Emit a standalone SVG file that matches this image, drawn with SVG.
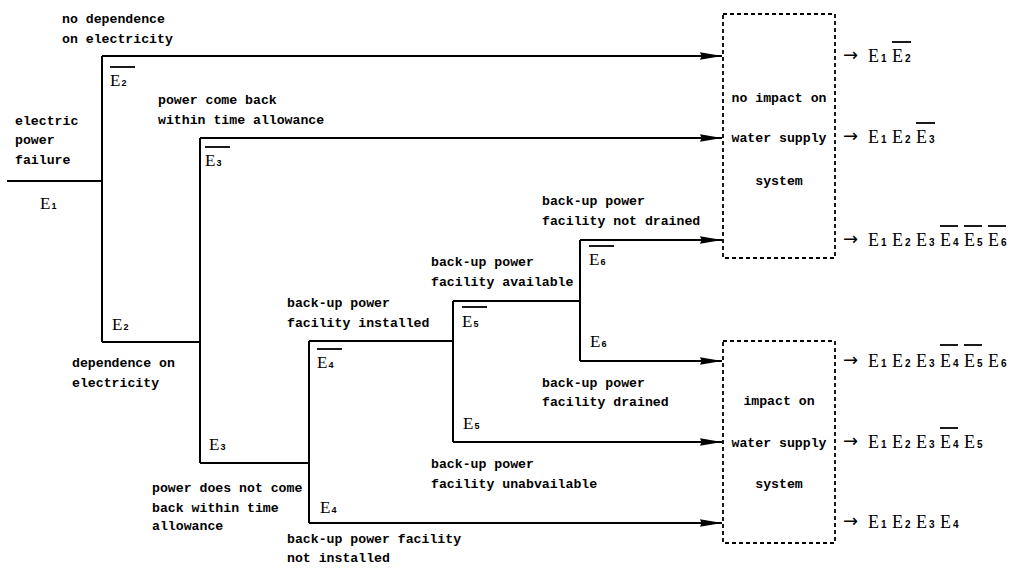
<svg xmlns="http://www.w3.org/2000/svg" width="1012" height="575" viewBox="0 0 1012 575">
<style>
.lbl{font-family:"Liberation Mono","DejaVu Sans Mono",monospace;font-size:13.2px;font-weight:bold;fill:#000}
.ev{font-family:"Liberation Serif","Times New Roman",serif;font-size:17px;fill:#000}
.ev .s{font-family:"Liberation Sans",Arial,sans-serif;font-size:9px;font-weight:bold}
.res{font-family:"Liberation Serif","Times New Roman",serif;font-size:18px;fill:#000}
.res .s{font-family:"Liberation Sans",Arial,sans-serif;font-size:10px;font-weight:bold}
.arr{font-family:"DejaVu Sans",sans-serif;font-size:18px;fill:#000}
.conn{stroke:#000;stroke-width:2;fill:none}
.box{fill:#fff;stroke:#000;stroke-width:1.8;stroke-dasharray:4 3}
.bar{stroke:#000;stroke-width:1.8}
.mid{text-anchor:middle}
</style>
<defs>
<marker id="ah" markerWidth="22" markerHeight="9" refX="22" refY="4.5" orient="auto" markerUnits="userSpaceOnUse">
<path d="M0,0.8 L22,4.5 L0,8.2 L1.5,4.5 Z" fill="#000"/>
</marker>
</defs>

<g id="connectors">
<path class="conn" d="M7,181 H102"/>
<path class="conn" d="M102,56 V342"/>
<path class="conn" d="M102,56 H722" marker-end="url(#ah)"/>
<path class="conn" d="M102,342 H200"/>
<path class="conn" d="M200,138 V463"/>
<path class="conn" d="M200,138 H722" marker-end="url(#ah)"/>
<path class="conn" d="M200,463 H309"/>
<path class="conn" d="M309,341 V523"/>
<path class="conn" d="M309,341 H453"/>
<path class="conn" d="M309,523 H722" marker-end="url(#ah)"/>
<path class="conn" d="M453,301 V442"/>
<path class="conn" d="M453,301 H580"/>
<path class="conn" d="M453,442 H722" marker-end="url(#ah)"/>
<path class="conn" d="M580,240 V361"/>
<path class="conn" d="M580,240 H722" marker-end="url(#ah)"/>
<path class="conn" d="M580,361 H722" marker-end="url(#ah)"/>
</g>

<g id="start">
<text class="lbl" x="15" y="125">electric</text>
<text class="lbl" x="15" y="144">power</text>
<text class="lbl" x="15" y="164">failure</text>
<text class="ev" x="40" y="209">E<tspan class="s" dx="1">1</tspan></text>
</g>

<g id="branch-no-dependence">
<text class="lbl" x="62" y="23">no dependence</text>
<text class="lbl" x="62" y="43">on electricity</text>
<line class="bar" x1="110" y1="67" x2="135" y2="67"/>
<text class="ev" x="110" y="86">E<tspan class="s" dx="1">2</tspan></text>
</g>

<g id="branch-dependence">
<text class="ev" x="112" y="330">E<tspan class="s" dx="1">2</tspan></text>
<text class="lbl" x="72" y="367">dependence on</text>
<text class="lbl" x="72" y="387">electricity</text>
</g>

<g id="branch-power-back">
<text class="lbl" x="158" y="104">power come back</text>
<text class="lbl" x="158" y="124">within time allowance</text>
<line class="bar" x1="205" y1="147" x2="230" y2="147"/>
<text class="ev" x="205" y="166">E<tspan class="s" dx="1">3</tspan></text>
</g>

<g id="branch-power-not-back">
<text class="ev" x="209" y="450">E<tspan class="s" dx="1">3</tspan></text>
<text class="lbl" x="152" y="492">power does not come</text>
<text class="lbl" x="152" y="512">back within time</text>
<text class="lbl" x="152" y="530">allowance</text>
</g>

<g id="branch-installed">
<text class="lbl" x="287" y="307">back-up power</text>
<text class="lbl" x="287" y="327">facility installed</text>
<line class="bar" x1="317" y1="349" x2="342" y2="349"/>
<text class="ev" x="317" y="368">E<tspan class="s" dx="1">4</tspan></text>
</g>

<g id="branch-not-installed">
<text class="ev" x="320" y="513">E<tspan class="s" dx="1">4</tspan></text>
<text class="lbl" x="287" y="543">back-up power facility</text>
<text class="lbl" x="287" y="562">not installed</text>
</g>

<g id="branch-available">
<text class="lbl" x="431" y="266">back-up power</text>
<text class="lbl" x="431" y="286">facility available</text>
<line class="bar" x1="462" y1="307" x2="487" y2="307"/>
<text class="ev" x="462" y="327">E<tspan class="s" dx="1">5</tspan></text>
</g>

<g id="branch-unavailable">
<text class="ev" x="463" y="429">E<tspan class="s" dx="1">5</tspan></text>
<text class="lbl" x="431" y="468">back-up power</text>
<text class="lbl" x="431" y="488">facility unabvailable</text>
</g>

<g id="branch-not-drained">
<text class="lbl" x="542" y="205">back-up power</text>
<text class="lbl" x="542" y="225">facility not drained</text>
<line class="bar" x1="589" y1="246" x2="614" y2="246"/>
<text class="ev" x="589" y="265">E<tspan class="s" dx="1">6</tspan></text>
</g>

<g id="branch-drained">
<text class="ev" x="590" y="347">E<tspan class="s" dx="1">6</tspan></text>
<text class="lbl" x="542" y="387">back-up power</text>
<text class="lbl" x="542" y="406">facility drained</text>
</g>

<g id="no-impact">
<rect class="box" x="723" y="14" width="112" height="244"/>
<text class="lbl mid" x="779" y="102">no impact on</text>
<text class="lbl mid" x="779" y="142">water supply</text>
<text class="lbl mid" x="779" y="185">system</text>
</g>

<g id="impact">
<rect class="box" x="723" y="341" width="112" height="202"/>
<text class="lbl mid" x="779" y="405">impact on</text>
<text class="lbl mid" x="779" y="447">water supply</text>
<text class="lbl mid" x="779" y="488">system</text>
</g>

<g id="result-1">
<text class="arr" x="843" y="61">→</text>
<text class="res" x="868" y="62">E<tspan class="s" dx="2">1</tspan></text>
<text class="res" x="892" y="62">E<tspan class="s" dx="2">2</tspan></text>
<line class="bar" x1="892" y1="42" x2="911" y2="42"/>
</g>

<g id="result-2">
<text class="arr" x="843" y="142">→</text>
<text class="res" x="868" y="143">E<tspan class="s" dx="2">1</tspan></text>
<text class="res" x="892" y="143">E<tspan class="s" dx="2">2</tspan></text>
<text class="res" x="916" y="143">E<tspan class="s" dx="2">3</tspan></text>
<line class="bar" x1="916" y1="123" x2="935" y2="123"/>
</g>

<g id="result-3">
<text class="arr" x="843" y="245">→</text>
<text class="res" x="868" y="246">E<tspan class="s" dx="2">1</tspan></text>
<text class="res" x="892" y="246">E<tspan class="s" dx="2">2</tspan></text>
<text class="res" x="916" y="246">E<tspan class="s" dx="2">3</tspan></text>
<text class="res" x="940" y="246">E<tspan class="s" dx="2">4</tspan></text>
<text class="res" x="964" y="246">E<tspan class="s" dx="2">5</tspan></text>
<text class="res" x="988" y="246">E<tspan class="s" dx="2">6</tspan></text>
<line class="bar" x1="940" y1="226" x2="958" y2="226"/>
<line class="bar" x1="964" y1="226" x2="982" y2="226"/>
<line class="bar" x1="988" y1="226" x2="1006" y2="226"/>
</g>

<g id="result-4">
<text class="arr" x="843" y="366">→</text>
<text class="res" x="868" y="367">E<tspan class="s" dx="2">1</tspan></text>
<text class="res" x="892" y="367">E<tspan class="s" dx="2">2</tspan></text>
<text class="res" x="916" y="367">E<tspan class="s" dx="2">3</tspan></text>
<text class="res" x="940" y="367">E<tspan class="s" dx="2">4</tspan></text>
<text class="res" x="964" y="367">E<tspan class="s" dx="2">5</tspan></text>
<text class="res" x="988" y="367">E<tspan class="s" dx="2">6</tspan></text>
<line class="bar" x1="940" y1="345" x2="958" y2="345"/>
<line class="bar" x1="964" y1="345" x2="982" y2="345"/>
</g>

<g id="result-5">
<text class="arr" x="843" y="447">→</text>
<text class="res" x="868" y="448">E<tspan class="s" dx="2">1</tspan></text>
<text class="res" x="892" y="448">E<tspan class="s" dx="2">2</tspan></text>
<text class="res" x="916" y="448">E<tspan class="s" dx="2">3</tspan></text>
<text class="res" x="940" y="448">E<tspan class="s" dx="2">4</tspan></text>
<text class="res" x="964" y="448">E<tspan class="s" dx="2">5</tspan></text>
<line class="bar" x1="940" y1="428" x2="958" y2="428"/>
</g>

<g id="result-6">
<text class="arr" x="843" y="527">→</text>
<text class="res" x="868" y="528">E<tspan class="s" dx="2">1</tspan></text>
<text class="res" x="892" y="528">E<tspan class="s" dx="2">2</tspan></text>
<text class="res" x="916" y="528">E<tspan class="s" dx="2">3</tspan></text>
<text class="res" x="940" y="528">E<tspan class="s" dx="2">4</tspan></text>
</g>
</svg>
